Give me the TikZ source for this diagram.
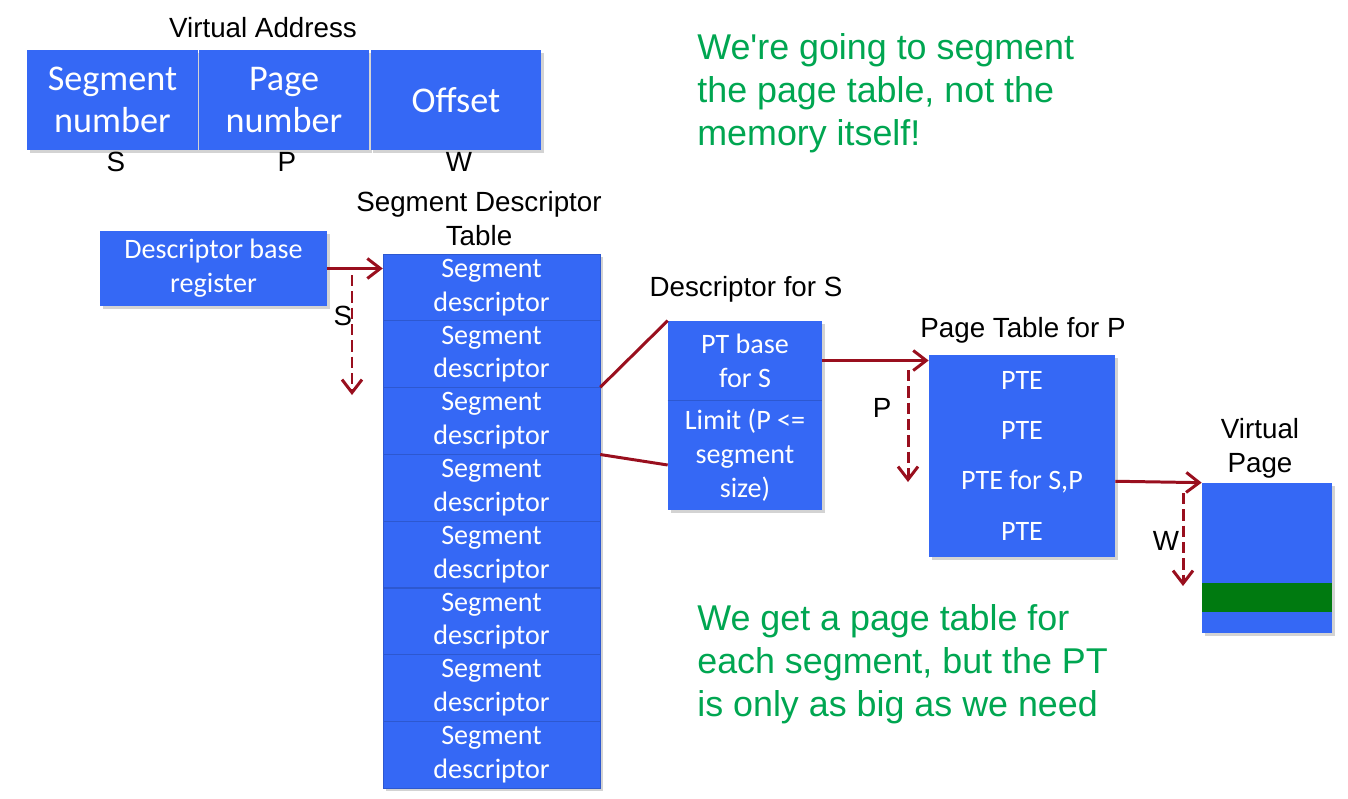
\documentclass[tikz,border=0pt]{standalone}
\usepackage{fontspec}
\setmainfont{Liberation Sans}
\newfontfamily\slidefont{Carlito}
\newfontfamily\notefont{Liberation Sans}[Ligatures=TeXOff]
\usetikzlibrary{arrows.meta,positioning,calc,shadows}
\definecolor{SlideBlue}{HTML}{3568F5}
\definecolor{SlideRed}{HTML}{990F1E}
\definecolor{SlideGreen}{HTML}{00A651}
\definecolor{WordGreen}{HTML}{007A10}
\tikzset{
  ptrarrow/.style={-{Straight Barb[length=2.6mm,width=4mm]}, line width=1.7pt, draw=SlideRed},
  offarrow/.style={ptrarrow, dash pattern=on 6.5pt off 2.8pt},
  plainlink/.style={line width=1.7pt, draw=SlideRed},
  hdrlabel/.style={font=\fontsize{15.8}{19.3}\selectfont, align=center, inner sep=0pt},
  note/.style={font=\notefont\fontsize{20.4}{24.4}\selectfont, text=SlideGreen, align=left, anchor=north west, inner sep=0pt}
}
\begin{document}
\begin{tikzpicture}[
  x=0.02cm, y=-0.02cm,
  blockbox/.style={fill=SlideBlue, text=white, align=center, inner sep=0pt,
    font=\slidefont\fontsize{16}{19.3}\selectfont,
    drop shadow={shadow xshift=1.5pt, shadow yshift=-1.5pt, opacity=0.35}},
  fieldbox/.style={blockbox, minimum width=3.42cm, minimum height=2cm,
    font=\slidefont\fontsize{20.6}{23.8}\selectfont},
  rowbox/.style={blockbox, minimum width=4.34cm, minimum height=1.335cm,
    draw=SlideBlue!85!black, line width=0.3pt},
  pterow/.style={blockbox, minimum width=3.72cm, minimum height=1.01cm}
]
\useasboundingbox (0,0) rectangle (1348,798);

% virtual address fields
\node[hdrlabel] (valabel) at (263,28) {Virtual Address};
\node[fieldbox] (segno) at (112.5,100) {Segment\\number};
\node[fieldbox] (pageno) at (284,100) {Page\\number};
\node[fieldbox] (offset) at (456,100) {Offset};
\node[hdrlabel] (slabel) at (116,162) {S};
\node[hdrlabel] (plabel) at (287,162) {P};
\node[hdrlabel] (wlabel) at (459,162) {W};

\node[note] (topnote) at (697,33) {We're going to segment\\the page table, not the\\memory itself!};

% descriptor base register and segment descriptor table
\node[blockbox, minimum width=4.54cm, minimum height=1.5cm] (dbr) at (213.5,268.5) {Descriptor base\\register};
\node[hdrlabel] (sdtlabel) at (479,219) {Segment Descriptor\\Table};
\foreach \k in {1,...,8}
  \node[rowbox] (desc\k) at (491.5,{254+66.75*(\k-0.5)}) {Segment\\descriptor};

\draw[ptrarrow] (dbr.east) -- (dbr.east -| desc1.west);
\coordinate (sfrom) at (352,275);
\coordinate (sto) at (352,395);
\draw[offarrow] (sfrom) -- (sto);
\node[hdrlabel] (soff) at (343,316) {S};

% descriptor for S
\node[hdrlabel] (dsclabel) at (746,289) {Descriptor for S};
\node[blockbox, minimum width=3.08cm, minimum height=1.58cm] (ptbase) at (745,360.5) {PT base\\for S};
\node[blockbox, minimum width=3.08cm, minimum height=2.2cm] (limit) at (745,455) {Limit (P <=\\segment\\size)};
\draw[SlideBlue!85!black, line width=0.3pt] (ptbase.south west) -- (ptbase.south east);
\draw[plainlink] (desc3.north east) -- (ptbase.north west);
\draw[plainlink] (desc3.south east) -- ($(limit.west)+(0,10)$);

% page table for P
\node[hdrlabel] (ptlabel) at (1023,330) {Page Table for P};
\node[pterow] (pte1) at (1022,380.25) {PTE};
\node[pterow] (pte2) at (1022,430.75) {PTE};
\node[pterow] (pte3) at (1022,481.25) {PTE for S,P};
\node[pterow] (pte4) at (1022,531.75) {PTE};
\draw[ptrarrow] (ptbase.east) -- (ptbase.east -| pte1.west);
\coordinate (pfrom) at (908,370);
\coordinate (pto) at (908,482);
\draw[offarrow] (pfrom) -- (pto);
\node[hdrlabel] (poff) at (882,408) {P};

% virtual page
\node[hdrlabel] (vplabel) at (1260,448) {Virtual\\Page};
\node[blockbox, minimum width=2.6cm, minimum height=3cm] (vpage) at (1267,558) {};
\node[fill=WordGreen, minimum width=2.6cm, minimum height=0.58cm, inner sep=0pt] (word) at (1267,597.5) {};
\draw[ptrarrow] (pte3.east) -- (vpage.north west);
\coordinate (wfrom) at (1183,493);
\coordinate (wto) at (1183,586);
\draw[offarrow] (wfrom) -- (wto);
\node[hdrlabel] (woff) at (1166,541) {W};

\node[note] (botnote) at (697,604) {We get a page table for\\each segment, but the PT\\is only as big as we need};
\end{tikzpicture}
\end{document}
